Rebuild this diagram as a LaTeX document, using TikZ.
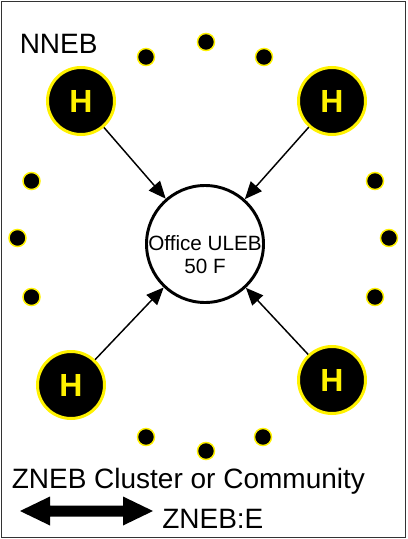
\documentclass[tikz,border=0pt]{standalone}
\usepackage{fontspec}
\setmainfont{Liberation Sans}
\usetikzlibrary{arrows.meta}

\tikzset{
  house/.style={circle, draw=yellow, fill=black, line width=2.25pt,
    minimum size=50.25pt, inner sep=0pt, text=yellow,
    font=\bfseries\fontsize{24}{28}\selectfont},
  office/.style={circle, draw=black, fill=white, line width=2.2pt,
    minimum size=87.75pt, inner sep=0pt},
  officetext/.style={align=center, inner sep=0pt,
    font=\fontsize{15.5}{17.25}\selectfont},
  dot/.style={circle, draw=yellow, fill=black, line width=1.1pt,
    minimum size=12.8pt, inner sep=0pt},
  feed/.style={-{Triangle[length=13pt,width=11pt]}, line width=1.1pt},
  label/.style={anchor=base west, inner sep=0pt,
    font=\fontsize{21}{25}\selectfont}
}

\begin{document}
\begin{tikzpicture}[x=0.75pt, y=-0.75pt]
  \useasboundingbox (0,0) rectangle (407,539);

  % frame
  \draw[black!80, line width=1.2pt] (1.5,1.5) rectangle (405.5,537.5);

  % central office building
  \node[office] (office) at (205,244) {};
  \node[officetext] (officelbl) at (205,255) {Office ULEB\\50 F};

  % homes
  \node[house] (h1) at (81,101) {H};
  \node[house] (h2) at (332,101) {H};
  \node[house] (h3) at (71,385) {H};
  \node[house] (h4) at (332,380) {H};

  \foreach \h in {h1,h2,h3,h4}
    \draw[feed] (\h) -- (office);

  % surrounding small buildings
  \node[dot] (t1) at (146,57) {};
  \node[dot] (t2) at (206,42) {};
  \node[dot] (t3) at (264,57) {};
  \node[dot] (l1) at (31.5,181) {};
  \node[dot] (l2) at (17.5,238) {};
  \node[dot] (l3) at (31.5,297) {};
  \node[dot] (r1) at (375,181) {};
  \node[dot] (r2) at (389,238) {};
  \node[dot] (r3) at (375,297) {};
  \node[dot] (b1) at (146,437) {};
  \node[dot] (b2) at (206,451) {};
  \node[dot] (b3) at (263,437) {};

  % labels
  \node[label] (nneb) at (19.5,53) {NNEB};
  \node[label] (zneb) at (11.5,488) {ZNEB Cluster or Community};
  \node[label] (zne) at (162,528) {ZNEB:E};

  % double-headed exchange arrow
  \fill[black] (20,511) -- (50,496.5) -- (50,505.5) -- (123,505.5)
    -- (123,496.5) -- (153,511) -- (123,525.5) -- (123,516.5)
    -- (50,516.5) -- (50,525.5) -- cycle;
\end{tikzpicture}
\end{document}
